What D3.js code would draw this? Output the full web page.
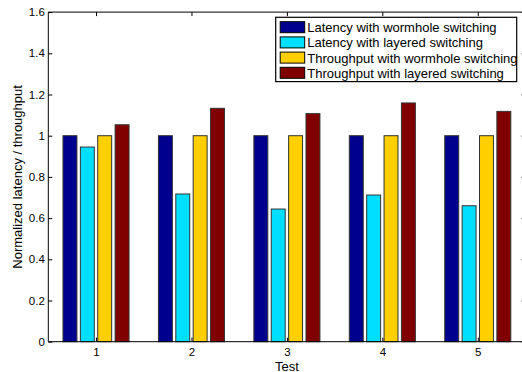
<!DOCTYPE html>
<html><head><meta charset="utf-8">
<script src="https://cdn.jsdelivr.net/npm/d3@7"></script>
<style>body{margin:0;background:#fff}svg{display:block}text{font-family:"Liberation Sans",Arial,sans-serif}</style>
</head><body>
<svg id="c" width="522" height="372"></svg>
<script>
const tests = [1, 2, 3, 4, 5];
const seriesNames = ["Latency with wormhole switching","Latency with layered switching","Throughput with wormhole switching","Throughput with layered switching"];
const latencyWormhole = [1, 1, 1, 1, 1];
const latencyLayered = [0.945, 0.717, 0.644, 0.712, 0.66];
const throughputWormhole = [1, 1, 1, 1, 1];
const throughputLayered = [1.053, 1.133, 1.107, 1.159, 1.118];
const colors = ["#00008f", "#00dfff", "#ffcf00", "#800000"];
const yTicks = [0, 0.2, 0.4, 0.6, 0.8, 1, 1.2, 1.4, 1.6];

const series = [latencyWormhole, latencyLayered, throughputWormhole, throughputLayered];
const svg = d3.select("#c");
const x = d3.scaleLinear().domain([0.5, 5.5]).range([48.3, 525.5]);
const y = d3.scaleLinear().domain([0, 1.6]).range([341.7, 12.1]);
const step = 0.182, bw = 0.146;

// bars
series.forEach((vals, i) => {
  svg.append("g").selectAll("rect").data(vals).join("rect")
    .attr("x", (d, j) => x(tests[j] + (i - 1.5) * step - bw / 2))
    .attr("width", x(bw) - x(0))
    .attr("y", d => y(d))
    .attr("height", d => y(0) - y(d))
    .attr("fill", colors[i])
    .attr("stroke", "#333").attr("stroke-width", 1);
});

// frame
const fr = svg.append("g").attr("fill", "none").attr("stroke", "#000").attr("stroke-width", 1);
fr.append("line").attr("x1", x(0.5)).attr("x2", x(0.5)).attr("y1", y(0)).attr("y2", y(1.6));
fr.append("line").attr("x1", x(0.5)).attr("x2", x(5.5)).attr("y1", y(0)).attr("y2", y(0));
fr.append("line").attr("x1", x(0.5)).attr("x2", x(5.5)).attr("y1", y(1.6)).attr("y2", y(1.6));
fr.append("line").attr("x1", x(5.5)).attr("x2", x(5.5)).attr("y1", y(0)).attr("y2", y(1.6));

// axes with inward ticks
const xa = svg.append("g").attr("transform", `translate(0,${y(0)})`)
  .call(d3.axisBottom(x).tickValues(tests).tickSize(-4).tickPadding(6).tickFormat(d3.format("d")));
const xt = svg.append("g").attr("transform", `translate(0,${y(1.6)})`)
  .call(d3.axisTop(x).tickValues(tests).tickSize(-4).tickFormat(""));
const ya = svg.append("g").attr("transform", `translate(${x(0.5)},0)`)
  .call(d3.axisLeft(y).tickValues(yTicks).tickSize(-4).tickPadding(3.5).tickFormat(d => String(+d.toFixed(1))));
const yr = svg.append("g").attr("transform", `translate(${x(5.5)},0)`)
  .call(d3.axisRight(y).tickValues(yTicks).tickSize(-4).tickFormat(""));
[xa, xt, ya, yr].forEach(g => {
  g.select(".domain").remove();
  g.selectAll("text").attr("font-size", 11.5).attr("fill", "#000").style("font-family", '"Liberation Sans",Arial,sans-serif');
  g.selectAll("line").attr("stroke", "#000");
});

// axis labels
svg.append("text").attr("x", x(3)).attr("y", 370.5).attr("text-anchor", "middle")
  .attr("font-size", 13).text("Test");
svg.append("text").attr("transform", `translate(22.3,${(y(0) + y(1.6)) / 2}) rotate(-90)`)
  .attr("text-anchor", "middle").attr("font-size", 13).text("Normalized latency / throughput");

// legend
const lg = svg.append("g").attr("transform", "translate(275.7,17.3)");
lg.append("rect").attr("width", 241).attr("height", 64.3).attr("fill", "#fff").attr("stroke", "#000").attr("stroke-width", 1.2);
seriesNames.forEach((n, i) => {
  const r = lg.append("g").attr("transform", `translate(0,${4.4 + i * 15.2})`);
  r.append("rect").attr("x", 4.5).attr("y", 0).attr("width", 24.5).attr("height", 11)
    .attr("fill", colors[i]).attr("stroke", "#000");
  r.append("text").attr("x", 31.6).attr("y", 10.4).attr("font-size", 13).text(n);
});
</script>
</body></html>
